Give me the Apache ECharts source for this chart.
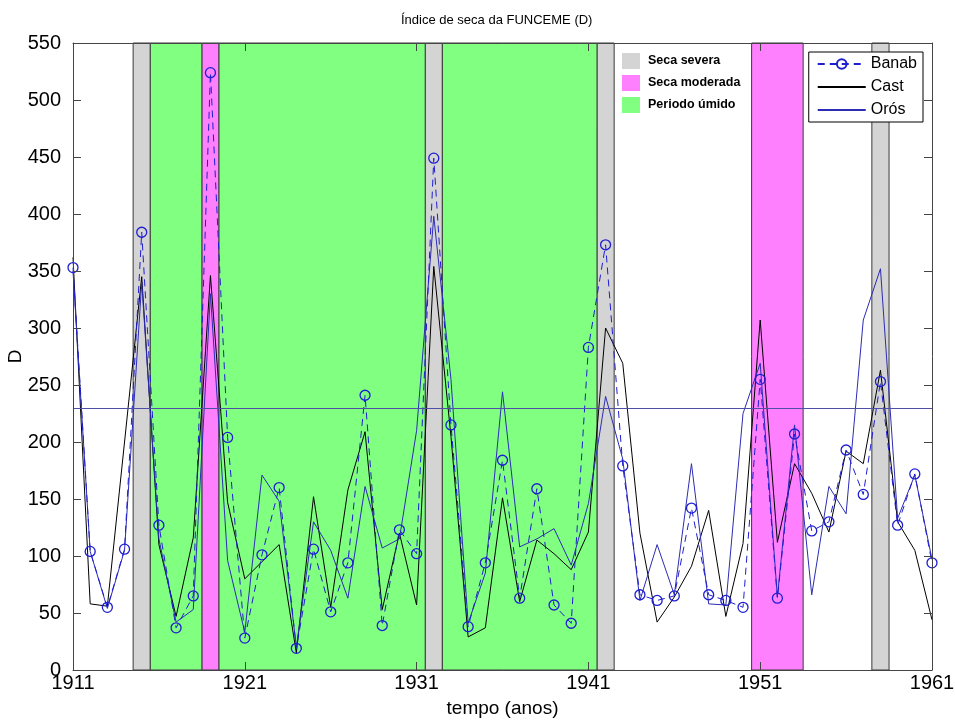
<!DOCTYPE html>
<html>
<head>
<meta charset="utf-8">
<script src="https://cdn.jsdelivr.net/npm/echarts@6/dist/echarts.min.js"></script>
<style>
  html, body { margin: 0; padding: 0; background: #fff; }
  #chart { width: 955px; height: 720px; }
</style>
</head>
<body>
<div id="chart"></div>
<script>
var years = [1911,1912,1913,1914,1915,1916,1917,1918,1919,1920,
             1921,1922,1923,1924,1925,1926,1927,1928,1929,1930,
             1931,1932,1933,1934,1935,1936,1937,1938,1939,1940,
             1941,1942,1943,1944,1945,1946,1947,1948,1949,1950,
             1951,1952,1953,1954,1955,1956,1957,1958,1959,1960,
             1961];

var banab = [353,104,55,106,384,127,37,65,524,204,
             28,101,160,19,106,51,94,241,39,123,
             102,449,215,38,94,184,63,159,57,41,
             283,373,179,66,61,65,142,66,61,55,
             255,63,207,122,130,193,154,253,127,172,
             94];

var cast = [362,58,56,200,345,110,47,116,346,147,
            80,95,110,15,152,55,158,209,53,120,
            57,354,205,29,37,151,60,114,102,88,
            121,300,269,120,42,64,91,140,47,111,
            307,112,181,155,121,192,181,263,130,105,
            44];

var oros = [350,104,54,105,340,115,42,53,330,96,
            33,171,148,20,130,105,63,161,107,115,
            210,398,255,41,85,244,108,115,124,92,
            146,240,185,61,110,66,181,58,57,225,
            269,64,215,66,161,137,307,352,133,171,
            97];

var threshold = 230;

// faixas (inicio, fim) em anos
var secaSevera = [[1914.5,1915.5],[1931.5,1932.5],[1941.5,1942.5],[1957.5,1958.5]];
var secaModerada = [[1918.5,1919.5],[1950.5,1953.5]];
var periodoUmido = [[1915.5,1918.5],[1919.5,1931.5],[1932.5,1941.5]];

var yMin = 0, yMax = 550;

function pairs(vals) {
  return years.map(function (y, i) { return [y, vals[i]]; });
}

function bandItem(params, api) {
  var p0 = api.coord([api.value(0), yMax]);
  var p1 = api.coord([api.value(1), yMin]);
  return {
    type: 'rect',
    shape: { x: p0[0], y: p0[1], width: p1[0] - p0[0], height: p1[1] - p0[1] },
    style: { fill: api.visual('color'), stroke: '#3a3a3a', lineWidth: 1 }
  };
}

function bandSeries(name, color, data) {
  return {
    name: name,
    type: 'custom',
    renderItem: bandItem,
    data: data,
    itemStyle: { color: color },
    z: 1,
    silent: true
  };
}

var font = "'Liberation Sans', Arial, sans-serif";
var axisColor = '#444';

var myChart = echarts.init(document.getElementById('chart'));

var option = {
  animation: false,
  backgroundColor: '#fff',
  textStyle: { fontFamily: font },
  title: {
    text: 'Índice de seca da FUNCEME (D)',
    left: 396,
    top: 9,
    textStyle: { fontSize: 13, fontWeight: 'normal', color: '#000', fontFamily: font }
  },
  grid: { left: 73, right: 23, top: 43, bottom: 50, outerBoundsMode: 'none', containLabel: false },
  legend: [
    {
      data: ['Seca severa', 'Seca moderada', 'Periodo úmido'],
      orient: 'vertical',
      left: 617,
      top: 48,
      icon: 'rect',
      itemWidth: 18,
      itemHeight: 16,
      itemGap: 6,
      selectedMode: false,
      textStyle: { fontSize: 12.5, fontWeight: 'bold', color: '#000', fontFamily: font, padding: [0, 0, 0, 3] }
    },
    {
      data: [
        { name: 'Banab' },
        { name: 'Cast', itemStyle: { opacity: 0 } },
        { name: 'Orós', itemStyle: { opacity: 0 } }
      ],
      orient: 'vertical',
      right: 32,
      top: 52,
      itemWidth: 48,
      itemHeight: 12,
      itemGap: 7,
      selectedMode: false,
      backgroundColor: '#fff',
      borderColor: '#000',
      borderWidth: 1,
      borderRadius: 0,
      padding: [4, 6, 4, 8],
      textStyle: { fontSize: 16, color: '#000', fontFamily: font }
    }
  ],
  xAxis: [
    {
      type: 'value',
      min: 1911,
      max: 1961,
      interval: 10,
      position: 'bottom',
      name: 'tempo (anos)',
      nameLocation: 'middle',
      nameGap: 29,
      nameMoveOverlap: false,
      nameTextStyle: { fontSize: 19, color: '#000', fontFamily: font },
      axisLine: { show: true, onZero: false, lineStyle: { color: axisColor } },
      axisTick: { show: true, inside: true, length: 8, lineStyle: { color: axisColor } },
      axisLabel: { fontSize: 20, color: '#000', margin: 3, fontFamily: font,
                   formatter: function (v) { return String(v); } },
      splitLine: { show: false },
      z: 5
    },
    {
      type: 'value',
      min: 1911,
      max: 1961,
      interval: 10,
      position: 'top',
      axisLine: { show: true, onZero: false, lineStyle: { color: axisColor } },
      axisTick: { show: true, inside: true, length: 8, lineStyle: { color: axisColor } },
      axisLabel: { show: false },
      splitLine: { show: false },
      z: 5
    }
  ],
  yAxis: [
    {
      type: 'value',
      min: yMin,
      max: yMax,
      interval: 50,
      position: 'left',
      name: 'D',
      nameLocation: 'middle',
      nameGap: 48,
      nameMoveOverlap: false,
      nameTextStyle: { fontSize: 19, color: '#000', fontFamily: font },
      axisLine: { show: true, onZero: false, lineStyle: { color: axisColor } },
      axisTick: { show: true, inside: true, length: 8, lineStyle: { color: axisColor } },
      axisLabel: { fontSize: 20, color: '#000', margin: 12, fontFamily: font },
      splitLine: { show: false },
      z: 5
    },
    {
      type: 'value',
      min: yMin,
      max: yMax,
      interval: 50,
      position: 'right',
      axisLine: { show: true, onZero: false, lineStyle: { color: axisColor } },
      axisTick: { show: true, inside: true, length: 8, lineStyle: { color: axisColor } },
      axisLabel: { show: false },
      splitLine: { show: false },
      z: 5
    }
  ],
  series: [
    bandSeries('Seca severa', '#d4d4d4', secaSevera),
    bandSeries('Seca moderada', '#ff80ff', secaModerada),
    bandSeries('Periodo úmido', '#80ff80', periodoUmido),
    {
      name: 'Banab',
      type: 'line',
      data: pairs(banab),
      symbol: 'circle',
      symbolSize: 10,
      showAllSymbol: true,
      itemStyle: { color: 'rgba(0,0,0,0)', borderColor: '#1e1ed2', borderWidth: 1.3 },
      lineStyle: { color: '#1e1ed2', width: 1, type: [7, 5] },
      z: 4,
      markLine: {
        silent: true,
        symbol: 'none',
        label: { show: false },
        lineStyle: { color: '#4f4fa8', width: 1.2, type: 'solid' },
        data: [{ yAxis: threshold }]
      }
    },
    {
      name: 'Cast',
      type: 'line',
      data: pairs(cast),
      symbol: 'none',
      itemStyle: { color: '#000' },
      lineStyle: { color: '#000', width: 1 },
      z: 3
    },
    {
      name: 'Orós',
      type: 'line',
      data: pairs(oros),
      symbol: 'none',
      itemStyle: { color: '#2c2cb4' },
      lineStyle: { color: '#2c2cb4', width: 1 },
      z: 3
    }
  ]
};

myChart.setOption(option);
</script>
</body>
</html>
